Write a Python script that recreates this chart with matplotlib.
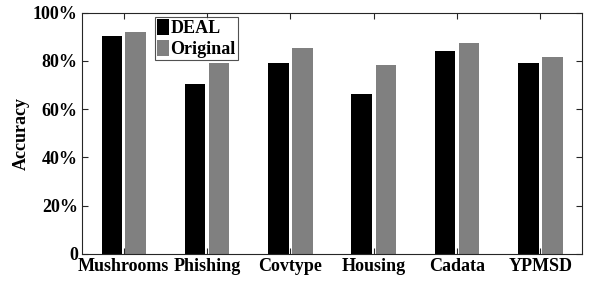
import matplotlib
matplotlib.use("Agg")
import matplotlib.pyplot as plt
import numpy as np

categories = ["Mushrooms", "Phishing", "Covtype", "Housing", "Cadata", "YPMSD"]
deal = [90.2, 70.3, 79.3, 66.2, 84.3, 79.1]
original = [92.2, 79.3, 85.3, 78.2, 87.3, 81.7]
yticks = [0, 20, 40, 60, 80, 100]
ytick_labels = ["0", "20%", "40%", "60%", "80%", "100%"]

plt.rcParams['font.family'] = ['Liberation Serif', 'DejaVu Serif']
plt.rcParams['font.weight'] = 'bold'

fs = 13
fig = plt.figure(figsize=(5.89, 2.82), dpi=100)
ax = fig.add_axes([82/589, 1-254/282, 500/589, (254-12.7)/282])

x = np.arange(1, len(categories) + 1)
w = 0.244
off = 0.144
ax.bar(x - off, deal, width=w, color='black', label='DEAL', edgecolor='none')
ax.bar(x + off, original, width=w, color='#808080', label='Original', edgecolor='none')

ax.set_xlim(0.5, 6.5)
ax.set_ylim(0, 100)
ax.set_xticks(x)
ax.set_xticklabels(categories, fontsize=fs, fontweight='bold')
ax.set_yticks(yticks)
ax.set_yticklabels(ytick_labels, fontsize=fs, fontweight='bold')
ax.tick_params(direction='in', top=True, right=True, length=4, width=0.8, colors='#262626', pad=3)
for lab in ax.get_xticklabels() + ax.get_yticklabels():
    lab.set_color('black')
for s in ax.spines.values():
    s.set_color('#262626')
    s.set_linewidth(0.8)
ax.set_ylabel("Accuracy", fontsize=fs, fontweight='bold', labelpad=2.5)

leg = ax.legend(loc='upper left', bbox_to_anchor=(0.146, 0.983), fontsize=fs,
                frameon=True, fancybox=False, edgecolor='#262626',
                handlelength=0.67, handleheight=0.95, handletextpad=0.05,
                borderpad=0.12, labelspacing=0.17, borderaxespad=0)
leg.get_frame().set_linewidth(0.8)
for t in leg.get_texts():
    t.set_fontweight('bold')

fig.savefig("out.png", dpi=100)
